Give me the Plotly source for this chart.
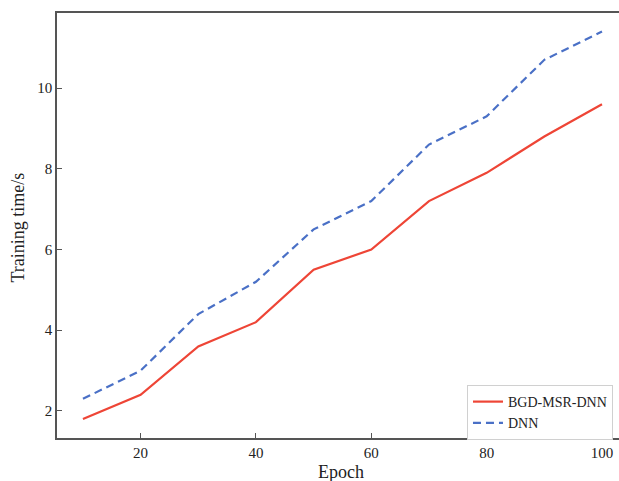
import plotly.graph_objects as go

epochs = [10, 20, 30, 40, 50, 60, 70, 80, 90, 100]
bgd_msr_dnn = [1.8, 2.4, 3.6, 4.2, 5.5, 6.0, 7.2, 7.9, 8.8, 9.6]
dnn = [2.3, 3.0, 4.4, 5.2, 6.5, 7.2, 8.6, 9.3, 10.7, 11.4]
x_ticks = [20, 40, 60, 80, 100]
y_ticks = [2, 4, 6, 8, 10]

FONT = "Liberation Serif, Times New Roman, serif"
TXT = "#222222"

fig = go.Figure()
fig.add_trace(go.Scatter(x=epochs, y=bgd_msr_dnn, mode="lines", name="BGD-MSR-DNN",
                         line=dict(color="#EE4536", width=2.2)))
fig.add_trace(go.Scatter(x=epochs, y=dnn, mode="lines", name="DNN",
                         line=dict(color="#4A70C6", width=2.2, dash="8px,5px")))

axis_common = dict(showgrid=False, zeroline=False, showline=True, linecolor="#555555",
                   linewidth=1.6, ticks="inside", ticklen=5, tickwidth=1.3, tickcolor="#555555",
                   tickfont=dict(family=FONT, size=15, color=TXT))

fig.update_layout(
    width=619, height=481,
    margin=dict(l=57, r=0, t=13, b=43),
    paper_bgcolor="white", plot_bgcolor="white",
    font=dict(family=FONT, color=TXT),
    showlegend=True,
    legend=dict(x=0.7295, y=0.1247, xanchor="left", yanchor="top",
                bgcolor="white", bordercolor="#D0D0D0", borderwidth=1,
                font=dict(family=FONT, size=14, color=TXT),
                itemwidth=30, tracegroupgap=0),
    xaxis=dict(range=[5.5, 102.95], tickvals=x_ticks, mirror=True, **axis_common),
    yaxis=dict(range=[1.33, 11.86], tickvals=y_ticks, mirror=False, **axis_common),
    annotations=[
        dict(text="Epoch", xref="paper", yref="paper", x=0.505, y=-0.08,
             xanchor="center", yanchor="middle", showarrow=False,
             font=dict(family=FONT, size=18, color=TXT)),
        dict(text="Training time/s", xref="paper", yref="paper", x=-0.0694, y=0.495,
             xanchor="center", yanchor="middle", showarrow=False, textangle=-90,
             font=dict(family=FONT, size=18, color=TXT)),
    ],
)

fig.write_html("out.html")
